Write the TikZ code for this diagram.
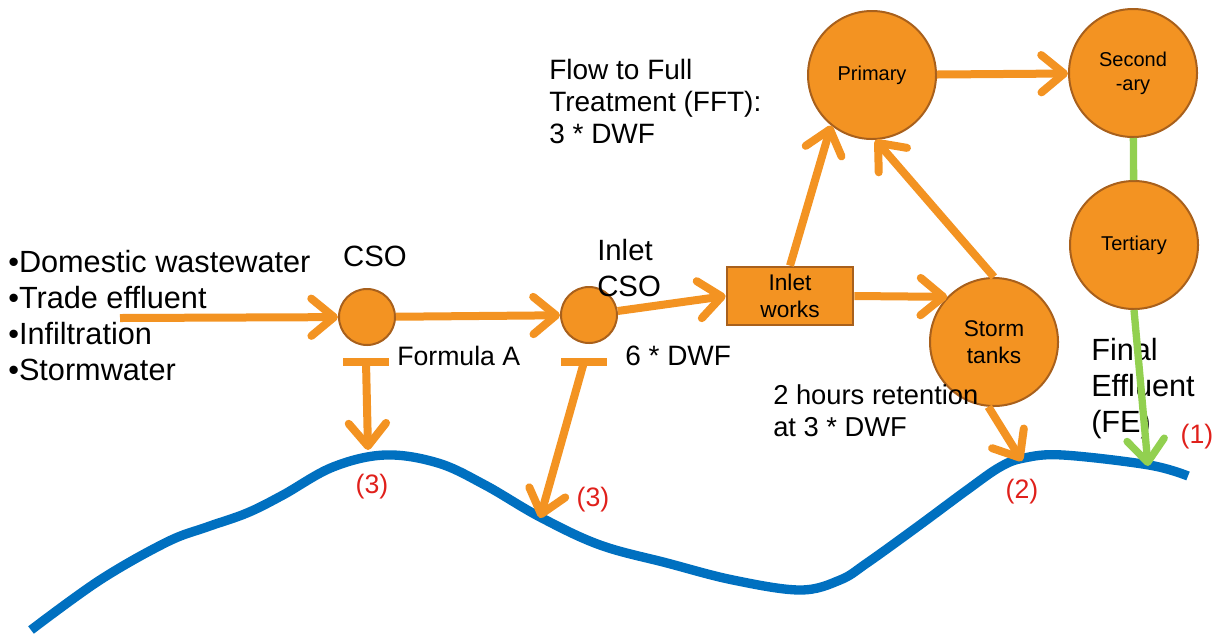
\documentclass[tikz,border=0pt]{standalone}
\usepackage{fontspec}
\setmainfont{Liberation Sans}
\usetikzlibrary{arrows.meta,positioning}
\definecolor{tankorange}{HTML}{F39322}
\definecolor{tankbrown}{HTML}{A8601C}
\definecolor{effgreen}{HTML}{92D050}
\definecolor{riverblue}{HTML}{0070C0}
\definecolor{outred}{HTML}{E0201B}

\begin{document}
\begin{tikzpicture}[
  x=0.75pt,y=-0.75pt,
  >={Straight Barb[length=17pt,width=28pt,round]},
  flow/.style={draw=tankorange,line width=6pt,->},
  effluent/.style={draw=effgreen,line width=5.5pt},
  weir/.style={circle,fill=tankorange,draw=tankbrown,line width=1.5pt,minimum size=42pt,inner sep=0pt},
  stage/.style={circle,fill=tankorange,draw=tankbrown,line width=1.5pt,minimum size=96pt,inner sep=0pt,align=center,font=\fontsize{15}{18}\selectfont},
  note/.style={align=left,inner sep=0pt,font=\fontsize{21}{27}\selectfont},
  outlabel/.style={inner sep=0pt,text=outred,font=\fontsize{20}{24}\selectfont}
]%
  \useasboundingbox (0,0) rectangle (1226,633);

  % river
  \draw[riverblue,line width=7pt] plot[smooth,tension=0.6] coordinates {
    (31,630) (100,580) (167,542) (207,527) (247,513) (283,495) (333,467)
    (385,455) (438,463) (485,485) (540,517) (600,545) (667,563)
    (733,580) (800,590) (840,580) (867,563) (917,527) (967,490) (1000,467)
    (1024,458) (1063,455) (1149,465) (1188,476)};
  \coordinate (spillA) at (368,450);
  \coordinate (spillB) at (540,518);
  \coordinate (spillC) at (1022,461);
  \coordinate (spillD) at (1148,466);

  % works
  \node[weir] (cso) at (367,317) {};
  \node[weir] (icso) at (589,315) {};
  \node[rectangle,fill=tankorange,draw=tankbrown,line width=1.5pt,minimum width=95pt,minimum height=44pt,
    align=center,font=\fontsize{17}{20}\selectfont] (works) at (790,296) {Inlet\\works};
  \node[stage] (primary) at (872,75) {Primary};
  \node[stage] (secondary) at (1133,73) {Second\\-ary};
  \node[stage] (tertiary) at (1134,245) {Tertiary};
  \node[stage,font=\fontsize{17}{20}\selectfont] (storm) at (994,342) {Storm\\tanks};

  % texts
  \node[note,anchor=north west,font=\fontsize{23}{27}\selectfont] (sources) at (8,250) {•Domestic wastewater\\•Trade effluent\\•Infiltration\\•Stormwater};
  \node[note,font=\fontsize{22}{27}\selectfont] (csolabel) at (375,256) {CSO};
  \node[note,anchor=north west,font=\fontsize{22}{27}\selectfont] (icsolabel) at (597,239) {Inlet\\CSO};
  \node[note,anchor=west,font=\fontsize{20}{24}\selectfont] (formula) at (397,356) {Formula A};
  \node[note,anchor=west] (sixdwf) at (625,356) {6 * DWF};
  \node[note,anchor=north west,font=\fontsize{21}{24}\selectfont] (fft) at (549,59) {Flow to Full\\Treatment (FFT):\\3 * DWF};
  \node[note,anchor=north west,font=\fontsize{20.5}{24}\selectfont] (retention) at (773,384) {2 hours retention\\at 3 * DWF};
  \node[note,anchor=north west,font=\fontsize{23}{27}\selectfont] (fe) at (1091,338) {Final\\Effluent\\(FE)};
  \node[outlabel] (outA) at (372,487) {(3)};
  \node[outlabel] (outB) at (593,500) {(3)};
  \node[outlabel] (outC) at (1022,492) {(2)};
  \node[outlabel] (outD) at (1197,437) {(1)};

  % flows
  \coordinate (inflow) at (120,318);
  \draw[flow] (inflow) -- (cso);
  \draw[flow] (cso) -- (icso);
  \draw[flow] (icso) -- (works.west);
  \draw[flow] (works.east) -- (storm.136);
  \draw[flow] (works.north) -- (primary.231);
  \draw[flow] (storm.north) -- (primary.273);
  \draw[flow] (primary) -- (secondary);
  \draw[effluent] (secondary) -- (tertiary);
  \draw[effluent,->] (tertiary.south) -- (spillD);
  \draw[flow] (storm.265) -- (spillC);

  % overflows
  \coordinate (barA) at (366,362);
  \coordinate (barB) at (584,362);
  \draw[draw=tankorange,line width=6.5pt] ([xshift=-17pt]barA) -- ([xshift=17pt]barA);
  \draw[draw=tankorange,line width=6.5pt] ([xshift=-17pt]barB) -- ([xshift=17pt]barB);
  \draw[flow] (barA) -- (spillA);
  \draw[flow] (barB) -- (spillB);
\end{tikzpicture}
\end{document}
